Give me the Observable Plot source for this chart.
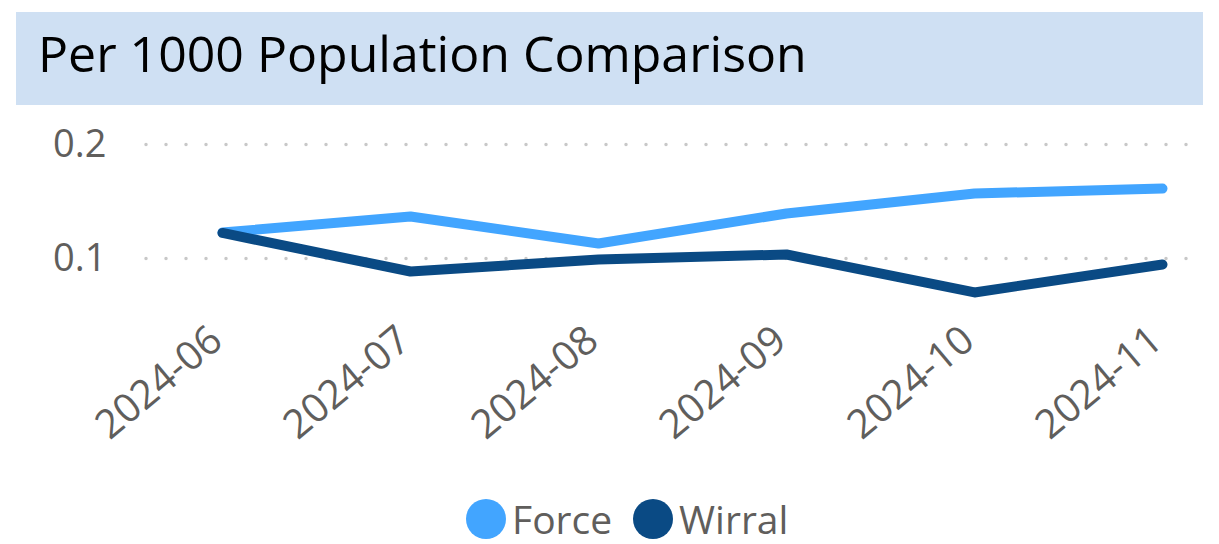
<!DOCTYPE html>
<html>
<head>
<meta charset="utf-8">
<script src="https://cdn.jsdelivr.net/npm/d3@7"></script>
<script src="https://cdn.jsdelivr.net/npm/@observablehq/plot@0.6"></script>
<style>
  html, body { margin: 0; padding: 0; background: #ffffff; }
  body { width: 1219px; height: 544px; position: relative; overflow: hidden; font-family: "Open Sans", "Noto Sans", sans-serif; }
  #title { position: absolute; left: 16px; top: 12px; width: 1187px; height: 93px; background: #cfe0f3; }
  #title span { position: absolute; left: 22px; top: 11px; font-size: 50px; color: #000; line-height: 1.2; white-space: nowrap; letter-spacing: 0px; }
  #chart { position: absolute; left: 0; top: 105px; }
  #legend { position: absolute; left: 466px; top: 499px; display: flex; align-items: center; font-size: 39px; color: #605e5c; line-height: 40px; height: 40px; }
  .sw { width: 40px; height: 40px; border-radius: 50%; display: inline-block; margin-right: 6px; }
  .item { display: flex; align-items: center; margin-right: 21px; }
</style>
</head>
<body>
<div id="title"><span>Per 1000 Population Comparison</span></div>
<div id="chart"></div>
<div id="legend"></div>
<script>
const months = ["2024-06", "2024-07", "2024-08", "2024-09", "2024-10", "2024-11"];
const seriesNames = ["Force", "Wirral"];
const seriesColors = ["#42a5ff", "#0a4a84"];
const forceValues = [0.1228, 0.1368, 0.1132, 0.1395, 0.157, 0.1614];
const wirralValues = [0.1224, 0.0886, 0.0991, 0.1035, 0.0702, 0.0947];
const yTicks = [0.1, 0.2];

const data = [];
months.forEach((m, i) => data.push({month: m, value: forceValues[i], series: "Force"}));
months.forEach((m, i) => data.push({month: m, value: wirralValues[i], series: "Wirral"}));

const chart = Plot.plot({
  width: 1219,
  height: 385,
  marginLeft: 146,
  marginRight: 16,
  marginTop: 39,
  marginBottom: 175,
  style: { fontFamily: "'Open Sans', 'Noto Sans', sans-serif", color: "#605e5c", background: "transparent" },
  x: { type: "point", domain: months, range: [222, 1162], padding: 0, label: null },
  y: { domain: [0.05, 0.2], label: null },
  color: { domain: seriesNames, range: seriesColors },
  marks: [
    Plot.ruleY(yTicks, { stroke: "#c8c8c8", strokeWidth: 3.5, strokeDasharray: "0 20", strokeLinecap: "round" }),
    Plot.axisY({ ticks: yTicks, tickSize: 0, tickPadding: 40, fontSize: 38, tickFormat: d3.format(".1f"), label: null, fill: "#605e5c" }),
    Plot.axisX({ tickSize: 0, tickRotate: -40, tickPadding: 19, fontSize: 40, label: null, fill: "#605e5c", dx: -6 }),
    Plot.line(data, { x: "month", y: "value", z: "series", stroke: "series", strokeWidth: 10, strokeLinecap: "round", strokeLinejoin: "round" })
  ]
});
document.getElementById("chart").appendChild(chart);

const legend = document.getElementById("legend");
seriesNames.forEach((name, i) => {
  const item = document.createElement("div");
  item.className = "item";
  const sw = document.createElement("span");
  sw.className = "sw";
  sw.style.background = seriesColors[i];
  const label = document.createElement("span");
  label.textContent = name;
  item.appendChild(sw);
  item.appendChild(label);
  legend.appendChild(item);
});
</script>
</body>
</html>
